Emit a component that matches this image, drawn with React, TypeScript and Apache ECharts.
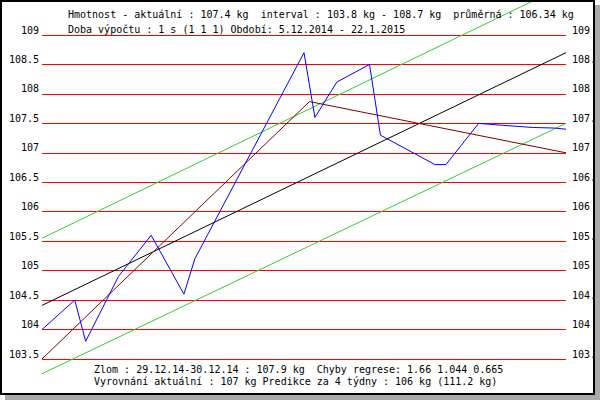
import React, { useEffect, useRef } from "react";
import * as echarts from "echarts";

// Day index from 5.12.2014 (0) to 22.1.2015 (48)
const days = [0, 3, 4, 7, 10, 13, 14, 24, 25, 27, 30, 31, 36, 37, 40, 42, 45, 47, 48];
const weights = [104.0, 104.5, 103.8, 104.9, 105.6, 104.6, 105.2, 108.7, 107.6, 108.2, 108.5, 107.3, 106.8, 106.8, 107.5, 107.47, 107.43, 107.42, 107.4];

// Broken regression (break 29.12.14-30.12.14)
const breakDays = [0, 24.5, 48];
const breakValues = [103.5, 107.87, 107.0];

// Overall regression and its band
const trendDays = [0, 48];
const trendValues = [104.41, 108.7];
const upperValues = [105.55, 109.85];
const lowerValues = [103.25, 107.5];

const yMin = 103.5;
const yMax = 109;
const yStep = 0.5;

const topLine1 = "Hmotnost - aktuální : 107.4 kg  interval : 103.8 kg - 108.7 kg  průměrná : 106.34 kg";
const topLine2 = "Doba výpočtu : 1 s (1 1 1) Období: 5.12.2014 - 22.1.2015";
const bottomLine1 = "Zlom : 29.12.14-30.12.14 : 107.9 kg  Chyby regrese: 1.66 1.044 0.665";
const bottomLine2 = "Vyrovnání aktuální : 107 kg Predikce za 4 týdny : 106 kg (111.2 kg)";

const FONT = "DejaVu Sans Mono";

function pairs(xs: number[], ys: number[]) {
  return xs.map((x, i) => [x, ys[i]]);
}

export default function App() {
  const ref = useRef<HTMLDivElement>(null);

  useEffect(() => {
    document.body.style.margin = "0";
    const chart = echarts.init(ref.current!, null, { renderer: "svg" });
    const lineSeries = (data: number[][], color: string, z: number) => ({
      type: "line",
      data,
      showSymbol: false,
      symbol: "none",
      clip: false,
      z,
      lineStyle: { color, width: 1 },
      xAxisIndex: 0,
      yAxisIndex: 0,
    });
    const axisLabelCommon = {
      color: "#000",
      fontFamily: FONT,
      fontSize: 10,
      verticalAlign: "bottom",
      lineHeight: 10,
    };
    chart.setOption({
      animation: false,
      backgroundColor: "#ffffff",
      grid: {
        left: 42,
        right: 34,
        top: 35,
        bottom: 41,
        containLabel: false,
        outerBoundsMode: "none",
      },
      xAxis: {
        type: "value",
        min: 0,
        max: 48,
        show: false,
      },
      yAxis: [
        {
          type: "value",
          position: "left",
          min: yMin,
          max: yMax,
          interval: yStep,
          axisLine: { show: false },
          axisTick: { show: false },
          axisLabel: { ...axisLabelCommon, margin: 3 },
          splitLine: { show: true, lineStyle: { color: "#ff0000", width: 1 } },
        },
        {
          type: "value",
          position: "right",
          min: yMin,
          max: yMax,
          interval: yStep,
          axisLine: { show: false },
          axisTick: { show: false },
          axisLabel: { ...axisLabelCommon, margin: 6, align: "left" },
          splitLine: { show: false },
        },
      ],
      series: [
        lineSeries(pairs(trendDays, upperValues), "#33cc33", 2),
        lineSeries(pairs(trendDays, lowerValues), "#33cc33", 2),
        lineSeries(pairs(trendDays, trendValues), "#000000", 3),
        lineSeries(pairs(breakDays, breakValues), "#800000", 4),
        lineSeries(pairs(days, weights), "#0000ff", 5),
      ],
      graphic: [
        {
          type: "text",
          left: 68,
          top: 9,
          z: 50,
          style: { text: topLine1, font: `10px "${FONT}"`, fill: "#000" },
        },
        {
          type: "text",
          left: 68,
          top: 24,
          z: 50,
          style: { text: topLine2, font: `10px "${FONT}"`, fill: "#000" },
        },
        {
          type: "text",
          left: 94,
          top: 364,
          z: 50,
          style: { text: bottomLine1, font: `10px "${FONT}"`, fill: "#000" },
        },
        {
          type: "text",
          left: 94,
          top: 376,
          z: 50,
          style: { text: bottomLine2, font: `10px "${FONT}"`, fill: "#000" },
        },
        {
          type: "rect",
          z: 100,
          shape: { x: 595, y: 5, width: 5, height: 395 },
          style: { fill: "#aaaaaa" },
        },
        {
          type: "rect",
          z: 100,
          shape: { x: 5, y: 395, width: 595, height: 5 },
          style: { fill: "#aaaaaa" },
        },
        {
          type: "rect",
          z: 101,
          shape: { x: 1, y: 1, width: 593, height: 393 },
          style: { fill: "none", stroke: "#000", lineWidth: 2 },
        },
      ],
    });
    return () => chart.dispose();
  }, []);

  return (
    <div
      ref={ref}
      style={{ position: "absolute", left: 0, top: 0, width: 600, height: 400 }}
    />
  );
}
